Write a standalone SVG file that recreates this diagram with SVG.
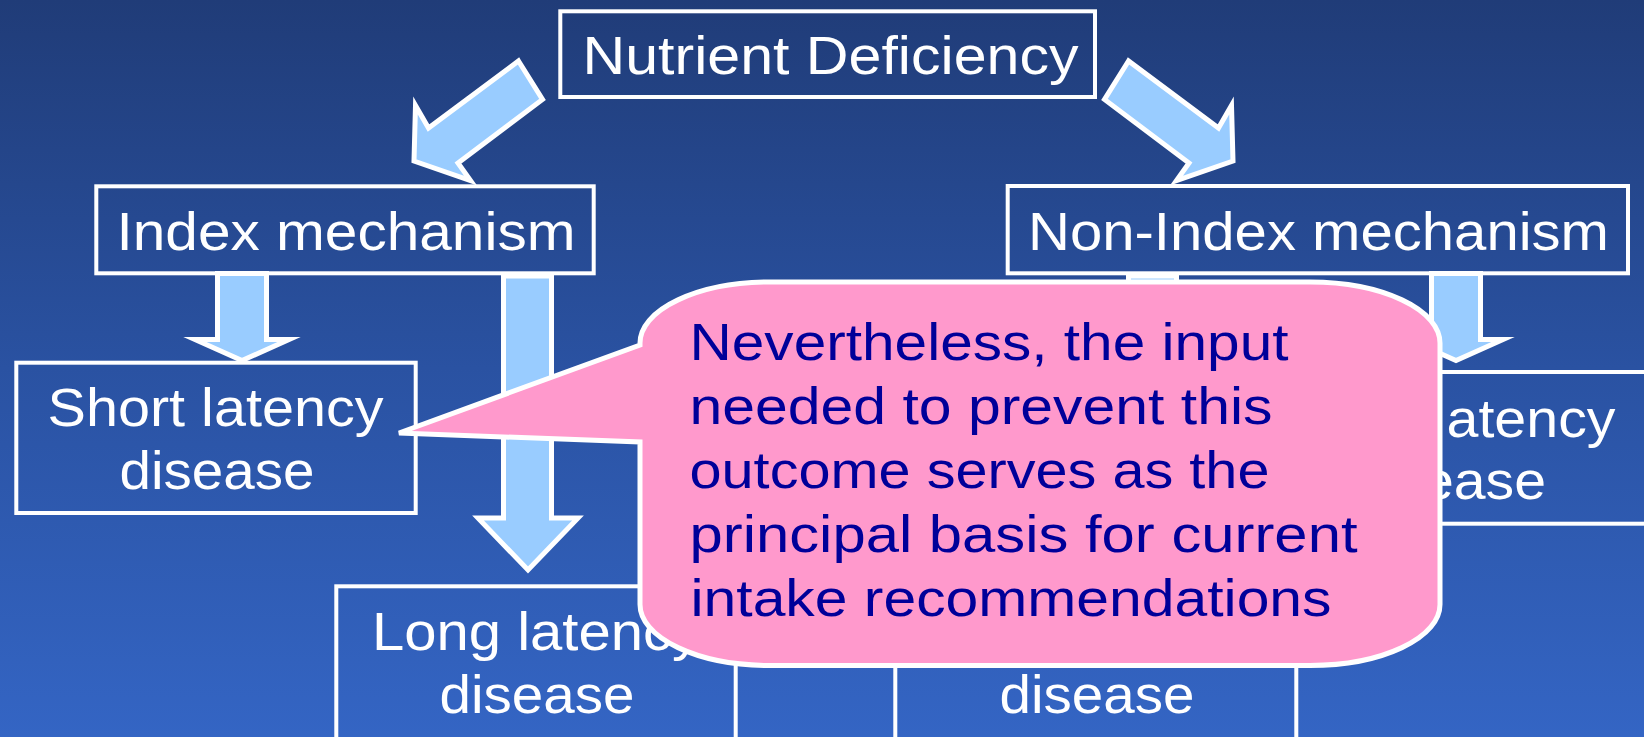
<svg xmlns="http://www.w3.org/2000/svg" width="1644" height="737" viewBox="0 0 1644 737">
<defs>
<linearGradient id="bg" x1="0" y1="0" x2="0" y2="1">
<stop offset="0" stop-color="#203C78"/>
<stop offset="0.5" stop-color="#2A52A2"/>
<stop offset="1" stop-color="#3465C4"/>
</linearGradient>
<style>
.box{fill:none;stroke:#FFFFFF;stroke-width:4}
.arrow{fill:#99CCFF;stroke:#FFFFFF;stroke-width:5;stroke-linejoin:miter;stroke-miterlimit:10}
.lbl{font-family:"Liberation Sans",Arial,sans-serif;font-size:53px;fill:#FFFFFF}
.call{font-family:"Liberation Sans",Arial,sans-serif;font-size:52.5px;fill:#000099}
</style>
</defs>
<rect x="0" y="0" width="1644" height="737" fill="url(#bg)"/>

<g id="connectors">
<polygon class="arrow" points="518.5,61 542.5,99.5 458,163 470.5,180.5 414,161 415.5,105.5 428.5,128"/>
<polygon class="arrow" points="1128.5,61 1104.5,99.5 1189,163 1176.5,180.5 1233,161 1231.5,105.5 1218.5,128"/>
<polygon class="arrow" points="217.5,273.5 266.5,273.5 266.5,339.5 289,339.5 242,360.5 195,339.5 217.5,339.5"/>
<polygon class="arrow" points="503.5,276 551.5,276 551.5,518 578,518 528,570 478,518 503.5,518"/>
<polygon class="arrow" points="1128.5,276 1176.5,276 1176.5,518 1203,518 1153,570 1103,518 1128.5,518"/>
<polygon class="arrow" points="1431.5,273.5 1480.5,273.5 1480.5,339.5 1503,339.5 1456,360.5 1409,339.5 1431.5,339.5"/>
</g>

<g id="node-nutrient">
<rect class="box" x="560.3" y="11.3" width="534.7" height="85.7"/>
<text class="lbl" x="582.5" y="74" textLength="496" lengthAdjust="spacingAndGlyphs">Nutrient Deficiency</text>
</g>
<g id="node-index">
<rect class="box" x="96.3" y="186.3" width="497.4" height="87"/>
<text class="lbl" x="116.5" y="250" textLength="459" lengthAdjust="spacingAndGlyphs">Index mechanism</text>
</g>
<g id="node-nonindex">
<rect class="box" x="1007.7" y="186" width="620.3" height="87.3"/>
<text class="lbl" x="1028" y="250" textLength="581" lengthAdjust="spacingAndGlyphs">Non-Index mechanism</text>
</g>
<g id="node-short">
<rect class="box" x="16.3" y="362.7" width="399.4" height="150.3"/>
<text class="lbl" x="47.5" y="426" textLength="336" lengthAdjust="spacingAndGlyphs">Short latency</text>
<text class="lbl" x="119.5" y="489.3" textLength="195" lengthAdjust="spacingAndGlyphs">disease</text>
</g>
<g id="node-right">
<rect class="box" x="1248" y="372" width="400" height="151.7"/>
<text class="lbl" x="1446.5" y="436.5" textLength="169" lengthAdjust="spacingAndGlyphs">atency</text>
<text class="lbl" x="1422" y="499.3" textLength="124" lengthAdjust="spacingAndGlyphs">ease</text>
</g>
<g id="node-long">
<rect class="box" x="336.3" y="586.3" width="399.4" height="160"/>
<text class="lbl" x="372" y="650" textLength="329" lengthAdjust="spacingAndGlyphs">Long latency</text>
<text class="lbl" x="439.5" y="713.3" textLength="195" lengthAdjust="spacingAndGlyphs">disease</text>
</g>
<g id="node-middle">
<rect class="box" x="895.3" y="586.3" width="401" height="160"/>
<text class="lbl" x="999.5" y="713.3" textLength="195" lengthAdjust="spacingAndGlyphs">disease</text>
</g>

<g id="callout">
<path d="M770,282 L1310,282 A130,61 0 0 1 1440,343 L1440,604.5 A130,61 0 0 1 1310,665.5 L770,665.5 A130,61 0 0 1 640,604.5 L640,442 L399,433 L640,345 L640,343 A130,61 0 0 1 770,282 Z" fill="#FF99CC" stroke="#FFFFFF" stroke-width="5" stroke-linejoin="miter"/>
<text class="call" x="689.5" y="359.5" textLength="599" lengthAdjust="spacingAndGlyphs">Nevertheless, the input</text>
<text class="call" x="689.5" y="423.5" textLength="583" lengthAdjust="spacingAndGlyphs">needed to prevent this</text>
<text class="call" x="689.5" y="487.5" textLength="580" lengthAdjust="spacingAndGlyphs">outcome serves as the</text>
<text class="call" x="689.5" y="551.5" textLength="668" lengthAdjust="spacingAndGlyphs">principal basis for current</text>
<text class="call" x="690.5" y="615.5" textLength="641" lengthAdjust="spacingAndGlyphs">intake recommendations</text>
</g>
</svg>
